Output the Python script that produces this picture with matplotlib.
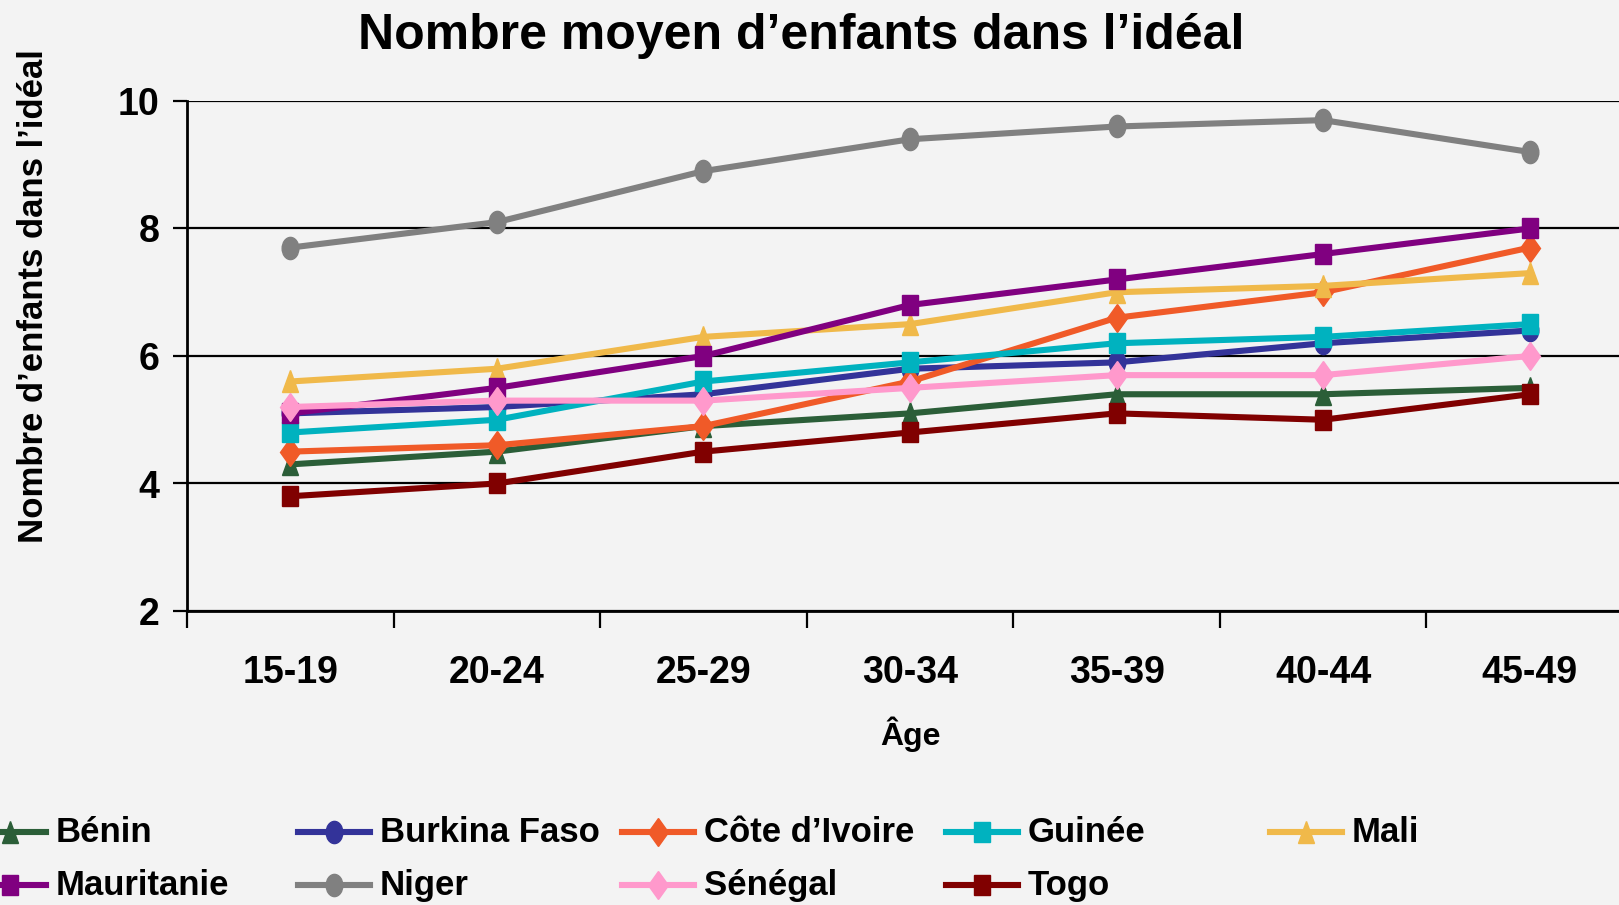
import numpy as np
import matplotlib
matplotlib.use("Agg")
import matplotlib.pyplot as plt
from matplotlib.lines import Line2D
from matplotlib.markers import MarkerStyle
from matplotlib.transforms import Affine2D

plt.rcParams['font.family'] = ['Liberation Sans', 'DejaVu Sans']
plt.rcParams['font.weight'] = 'bold'

ages = ["15-19", "20-24", "25-29", "30-34", "35-39", "40-44", "45-49"]

countries = ["Bénin", "Burkina Faso", "Côte d’Ivoire", "Guinée", "Mali",
             "Mauritanie", "Niger", "Sénégal", "Togo"]

benin = [4.3, 4.5, 4.9, 5.1, 5.4, 5.4, 5.5]
burkina = [5.1, 5.2, 5.4, 5.8, 5.9, 6.2, 6.4]
cote_ivoire = [4.5, 4.6, 4.9, 5.6, 6.6, 7.0, 7.7]
guinee = [4.8, 5.0, 5.6, 5.9, 6.2, 6.3, 6.5]
mali = [5.6, 5.8, 6.3, 6.5, 7.0, 7.1, 7.3]
mauritanie = [5.1, 5.5, 6.0, 6.8, 7.2, 7.6, 8.0]
niger = [7.7, 8.1, 8.9, 9.4, 9.6, 9.7, 9.2]
senegal = [5.2, 5.3, 5.3, 5.5, 5.7, 5.7, 6.0]
togo = [3.8, 4.0, 4.5, 4.8, 5.1, 5.0, 5.4]

series = [benin, burkina, cote_ivoire, guinee, mali, mauritanie, niger, senegal, togo]
colors = ["#2B5E38", "#333399", "#F05A28", "#00B2BF", "#F0B94A",
          "#800080", "#808080", "#FF99CC", "#800000"]
markers = ["^", "o", "D", "s", "^", "s", "o", "D", "s"]
msizes = [16, 16, 14, 15, 16, 15, 16, 14, 15]

# the original is squeezed sideways, markers included
squeeze = Affine2D().scale(0.75, 1.0)


def mk(m):
    return MarkerStyle(m, transform=squeeze)


bg = "#F3F3F3"
W, H = 1619, 905
fig = plt.figure(figsize=(W / 100, H / 100), dpi=100, facecolor=bg)
ax = fig.add_axes([187 / W, 294 / H, 1446 / W, 510 / H], facecolor=bg)

x = np.arange(len(ages))
for vals, c, m, ms in zip(series, colors, markers, msizes):
    ax.plot(x, vals, color=c, lw=4.4, marker=mk(m), ms=ms, mec=c, mfc=c,
            clip_on=False, zorder=3)

ax.set_xlim(-0.5, len(ages) - 0.5)
ax.set_ylim(2, 10)
ax.set_yticks([2, 4, 6, 8, 10])
ax.yaxis.grid(True, color="black", lw=1.6, zorder=1)
ax.set_axisbelow(True)

ax.set_xticks(x)
ax.set_xticklabels(ages)
ax.set_xticks(np.arange(-0.5, len(ages)), minor=True)
ax.tick_params(axis="x", which="major", length=0, pad=32, labelsize=27)
ax.tick_params(axis="x", which="minor", length=12, width=1.6, direction="out")
ax.tick_params(axis="y", length=10, width=1.6, direction="out", pad=10, labelsize=27)

for s in ["top", "right"]:
    ax.spines[s].set_visible(False)
for s in ["left", "bottom"]:
    ax.spines[s].set_linewidth(2)

ax.set_xlabel("Âge", fontsize=23, fontweight="bold", labelpad=18)
ax.set_ylabel("Nombre d’enfants dans l’idéal", fontsize=25, fontweight="bold")
ax.yaxis.set_label_coords(-0.095, 0.617)

fig.text(801 / W, 1 - 36 / H, "Nombre moyen d’enfants dans l’idéal",
         ha="center", va="center", fontsize=36, fontweight="bold")

# legend laid out as in the original, 5 columns
col_x = [-26 + 324 * i for i in range(5)]
row_y = [832, 885]
for i, (name, c, m, ms) in enumerate(zip(countries, colors, markers, msizes)):
    x0 = col_x[i % 5]
    y0 = 1 - row_y[i // 5] / H
    fig.add_artist(Line2D([x0 / W, (x0 + 72) / W], [y0, y0], color=c, lw=4.4,
                          transform=fig.transFigure))
    fig.add_artist(Line2D([(x0 + 36) / W], [y0], color=c, marker=mk(m), ms=ms,
                          mec=c, mfc=c, transform=fig.transFigure))
    fig.text((x0 + 82) / W, y0, name, ha="left", va="center", fontsize=25,
             fontweight="bold")

fig.savefig("out.png", dpi=100, facecolor=bg)
